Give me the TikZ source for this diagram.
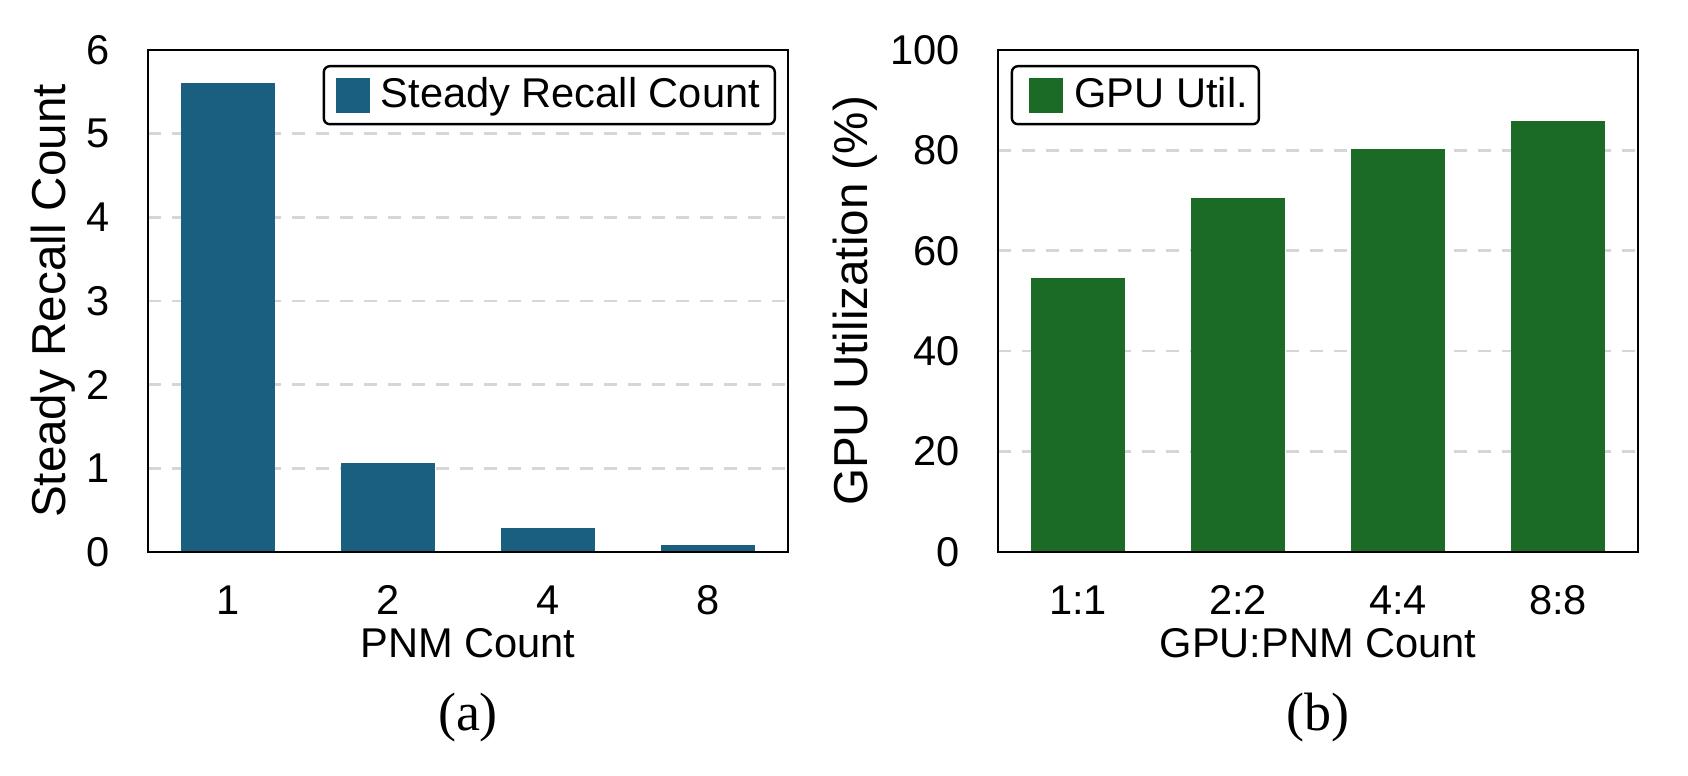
\documentclass[tikz,border=0pt]{standalone}
\usepackage{fontspec}
\setmainfont{Liberation Sans}
\newfontfamily\capfont{Liberation Serif}
\usepackage{tikz}
\usetikzlibrary{calc,positioning}
\definecolor{barblue}{HTML}{1A5F7F}
\definecolor{bargreen}{HTML}{1B6B27}
\definecolor{gridgray}{HTML}{D6D6D6}
\tikzset{
  axframe/.style={draw=black, line width=1.25pt},
  gridln/.style={draw=gridgray, line width=1.3pt, dash pattern=on 6.5pt off 5.5pt},
  ticklab/.style={inner sep=0pt, font=\fontsize{20.8}{24}\selectfont},
  axlab/.style={inner sep=0pt, anchor=base, font=\fontsize{20.8}{24}\selectfont},
  ylab/.style={inner sep=0pt, rotate=90, anchor=base, font=\fontsize{23.8}{28}\selectfont},
  caplab/.style={inner sep=0pt, anchor=base, font=\capfont\fontsize{27}{32}\selectfont},
  legbox/.style={draw=black, line width=1.2pt, rounded corners=3pt, inner sep=0pt, minimum height=29pt},
  swatch/.style={inner sep=0pt, minimum width=17pt, minimum height=17.5pt},
  legtext/.style={inner sep=0pt, font=\fontsize{20.8}{24}\selectfont}
}

\begin{document}
\begin{tikzpicture}[x=0.5pt, y=0.5pt]
  \useasboundingbox (0,0) rectangle (1688,776);

  % (a) steady recall count
  \begin{scope}[shift={(228,224)}, x=80pt, y=41.833pt]
    % grid
    \foreach \v in {1,...,5}
      \draw[gridln] (-0.5,\v) -- (3.5,\v);

    % bars
    \fill[barblue] (-0.295,0) rectangle (0.295,5.61);
    \fill[barblue] (0.705,0) rectangle (1.295,1.067);
    \fill[barblue] (1.705,0) rectangle (2.295,0.287);
    \fill[barblue] (2.705,0) rectangle (3.295,0.084);

    % frame
    \draw[axframe] (-0.5,0) rectangle (3.5,6);
    \coordinate (aL) at (-0.5,3);

    % ticks
    \foreach \v in {0,...,6}
      \node[ticklab, anchor=east, xshift=-19pt] (ytA\v) at (-0.5,\v) {\v};
    \foreach \lab [count=\i from 0] in {1,2,4,8}
      \node[ticklab, yshift=-24pt] (xtA\i) at (\i,0) {\lab};

    % labels
    \node[axlab, yshift=-53pt] (xlabA) at (1.5,0) {PNM Count};
    \node[caplab, yshift=-89.5pt] (capA) at (1.5,0) {(a)};
    \node[ylab] (ylabA) at ([xshift=-41.5pt]aL) {Steady Recall Count};

    % legend
    \node[legbox, anchor=north east, minimum width=225.5pt, xshift=-6pt, yshift=-7.5pt] (legA) at (3.5,6) {};
    \node[swatch, fill=barblue, anchor=west, xshift=6.5pt] (swA) at (legA.west) {};
    \node[legtext, anchor=base west] (legtxtA) at ([xshift=5pt, yshift=-6.25pt]swA.east) {Steady Recall Count};
  \end{scope}

  % (b) gpu utilization
  \begin{scope}[shift={(1078,224)}, x=80pt, y=2.51pt]
    % grid
    \foreach \v in {20,40,60,80}
      \draw[gridln] (-0.5,\v) -- (3.5,\v);

    % bars
    \fill[bargreen] (-0.295,0) rectangle (0.295,54.5);
    \fill[bargreen] (0.705,0) rectangle (1.295,70.5);
    \fill[bargreen] (1.705,0) rectangle (2.295,80.2);
    \fill[bargreen] (2.705,0) rectangle (3.295,85.8);

    % frame
    \draw[axframe] (-0.5,0) rectangle (3.5,100);
    \coordinate (bL) at (-0.5,50);

    % ticks
    \foreach \v in {0,20,...,100}
      \node[ticklab, anchor=east, xshift=-19pt] (ytB\v) at (-0.5,\v) {\v};
    \foreach \lab [count=\i from 0] in {1:1,2:2,4:4,8:8}
      \node[ticklab, yshift=-24pt] (xtB\i) at (\i,0) {\lab};

    % labels
    \node[axlab, yshift=-53pt] (xlabB) at (1.5,0) {GPU:PNM Count};
    \node[caplab, yshift=-89.5pt] (capB) at (1.5,0) {(b)};
    \node[ylab] (ylabB) at ([xshift=-65.5pt]bL) {GPU Utilization (\%)};

    % legend
    \node[legbox, anchor=north west, minimum width=123.5pt, xshift=6.35pt, yshift=-7.5pt] (legB) at (-0.5,100) {};
    \node[swatch, fill=bargreen, anchor=west, xshift=8.8pt] (swB) at (legB.west) {};
    \node[legtext, anchor=base west] (legtxtB) at ([xshift=5.5pt, yshift=-6.25pt]swB.east) {GPU Util.};
  \end{scope}
\end{tikzpicture}
\end{document}
